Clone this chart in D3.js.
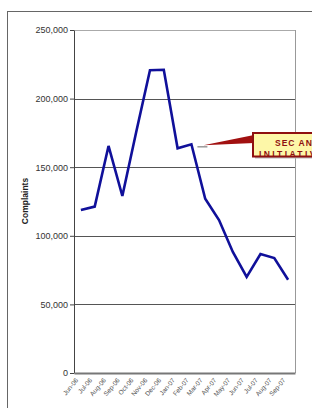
<!DOCTYPE html>
<html>
<head>
<meta charset="utf-8">
<script src="https://cdn.jsdelivr.net/npm/d3@7"></script>
<style>
  body { margin: 0; background: #fff; }
  svg { display: block; font-family: Arial, "Liberation Sans", sans-serif; }
</style>
</head>
<body>
<div id="chart"></div>
<script>
// Monthly complaints
var months = ["Jun-06", "Jul-06", "Aug-06", "Sep-06", "Oct-06", "Nov-06", "Dec-06", "Jan-07",
  "Feb-07", "Mar-07", "Apr-07", "May-07", "Jun-07", "Jul-07", "Aug-07", "Sep-07"];
var complaints = [118800, 121300, 165500, 129000, 175500, 220700, 221000, 163800,
  166700, 127000, 111500, 88200, 70100, 86700, 83800, 68000];
var yTicks = [0, 50000, 100000, 150000, 200000, 250000];
var calloutLines = ["SEC AND NASD", "INITIATIVES"];

var width = 312, height = 408;
var margin = { top: 30, right: 17, bottom: 35, left: 74 };

var svg = d3.select("#chart")
  .append("svg")
  .attr("width", width)
  .attr("height", height);

// chart area frame (runs off the picture on the right and bottom)
svg.append("rect")
  .attr("x", 7.5).attr("y", 11.5)
  .attr("width", 330).attr("height", 420)
  .attr("fill", "#fff")
  .attr("stroke", "#666")
  .attr("stroke-width", 1);

var x = d3.scaleBand()
  .domain(months)
  .range([margin.left, width - margin.right]);

var y = d3.scaleLinear()
  .domain([0, 250000])
  .range([height - margin.bottom, margin.top]);

// gridlines
svg.selectAll("line.grid")
  .data(yTicks.filter(function(d) { return d > 0; }))
  .enter()
  .append("line")
  .attr("class", "grid")
  .attr("x1", margin.left).attr("x2", width - margin.right)
  .attr("y1", function(d) { return Math.round(y(d)) + 0.5; })
  .attr("y2", function(d) { return Math.round(y(d)) + 0.5; })
  .attr("stroke", function(d) { return d == 250000 ? "#aaa" : "#555"; })
  .attr("stroke-width", 1);

// right border of plot
svg.append("line")
  .attr("x1", width - margin.right + 0.5).attr("x2", width - margin.right + 0.5)
  .attr("y1", y(250000)).attr("y2", y(0))
  .attr("stroke", "#999");

// y axis
var yAxis = svg.append("g")
  .attr("transform", "translate(" + margin.left + ",0)")
  .call(d3.axisLeft(y).tickValues(yTicks).tickSize(4).tickSizeOuter(0)
    .tickFormat(d3.format(",")));
yAxis.select(".domain").attr("stroke", "#444");
yAxis.selectAll(".tick line").attr("stroke", "#444");
yAxis.selectAll("text")
  .attr("font-size", 9)
  .attr("fill", "#333")
  .attr("x", -6);

// x axis
var xAxis = svg.append("g")
  .attr("transform", "translate(0," + y(0) + ")")
  .call(d3.axisBottom(x).tickSize(0).tickSizeOuter(0));
xAxis.select(".domain").attr("stroke", "#777").attr("stroke-width", 2);
xAxis.selectAll("text")
  .attr("font-size", 6.5)
  .attr("fill", "#555")
  .attr("text-anchor", "end")
  .attr("y", 0)
  .attr("dy", "0.35em")
  .attr("transform", "translate(-4,6) rotate(-50)");

// axis title
svg.append("text")
  .attr("transform", "translate(28,201) rotate(-90)")
  .attr("text-anchor", "middle")
  .attr("font-size", 8.5)
  .attr("font-weight", "bold")
  .attr("fill", "#222")
  .text("Complaints");

// complaints line
var line = d3.line()
  .x(function(d, i) { return x(months[i]) + x.bandwidth() / 2; })
  .y(function(d) { return y(d); });

svg.append("path")
  .datum(complaints)
  .attr("d", line)
  .attr("fill", "none")
  .attr("stroke", "#10109a")
  .attr("stroke-width", 2.6)
  .attr("stroke-linejoin", "miter");

// callout pointing at Feb-07
var tipX = x("Feb-07") + x.bandwidth() / 2 + 12, tipY = y(166700) + 1;
var boxX = 253, boxY = 133, boxW = 90, boxH = 23.5;

svg.append("line")
  .attr("x1", tipX - 6).attr("x2", tipX + 4)
  .attr("y1", tipY + 1.5).attr("y2", tipY + 1.5)
  .attr("stroke", "#999").attr("stroke-width", 1.5);

svg.append("rect")
  .attr("x", boxX + 2).attr("y", boxY + 2)
  .attr("width", boxW).attr("height", boxH)
  .attr("fill", "#bbb");

svg.append("path")
  .attr("d", "M" + tipX + "," + tipY + "L" + (boxX + 1) + "," + (boxY + 2) + "L" + (boxX + 1) + "," + (boxY + 10) + "Z")
  .attr("fill", "#a11010");

svg.append("rect")
  .attr("x", boxX).attr("y", boxY)
  .attr("width", boxW).attr("height", boxH)
  .attr("fill", "#fdf7a8");

svg.append("clipPath")
  .attr("id", "callout-clip")
  .append("rect")
  .attr("x", boxX).attr("y", boxY)
  .attr("width", boxW).attr("height", boxH);

svg.append("g")
  .attr("clip-path", "url(#callout-clip)")
  .selectAll("text")
  .data(calloutLines)
  .enter()
  .append("text")
  .attr("x", function(d, i) { return i == 0 ? 275 : 259; })
  .attr("y", function(d, i) { return i == 0 ? 145.5 : 157; })
  .attr("font-size", 8.5)
  .attr("font-weight", "bold")
  .attr("letter-spacing", function(d, i) { return i == 0 ? 1 : 2.4; })
  .attr("fill", "#8e1010")
  .text(function(d) { return d; });

svg.append("rect")
  .attr("x", boxX).attr("y", boxY)
  .attr("width", boxW).attr("height", boxH)
  .attr("fill", "none")
  .attr("stroke", "#8e1010")
  .attr("stroke-width", 2);
</script>
</body>
</html>
